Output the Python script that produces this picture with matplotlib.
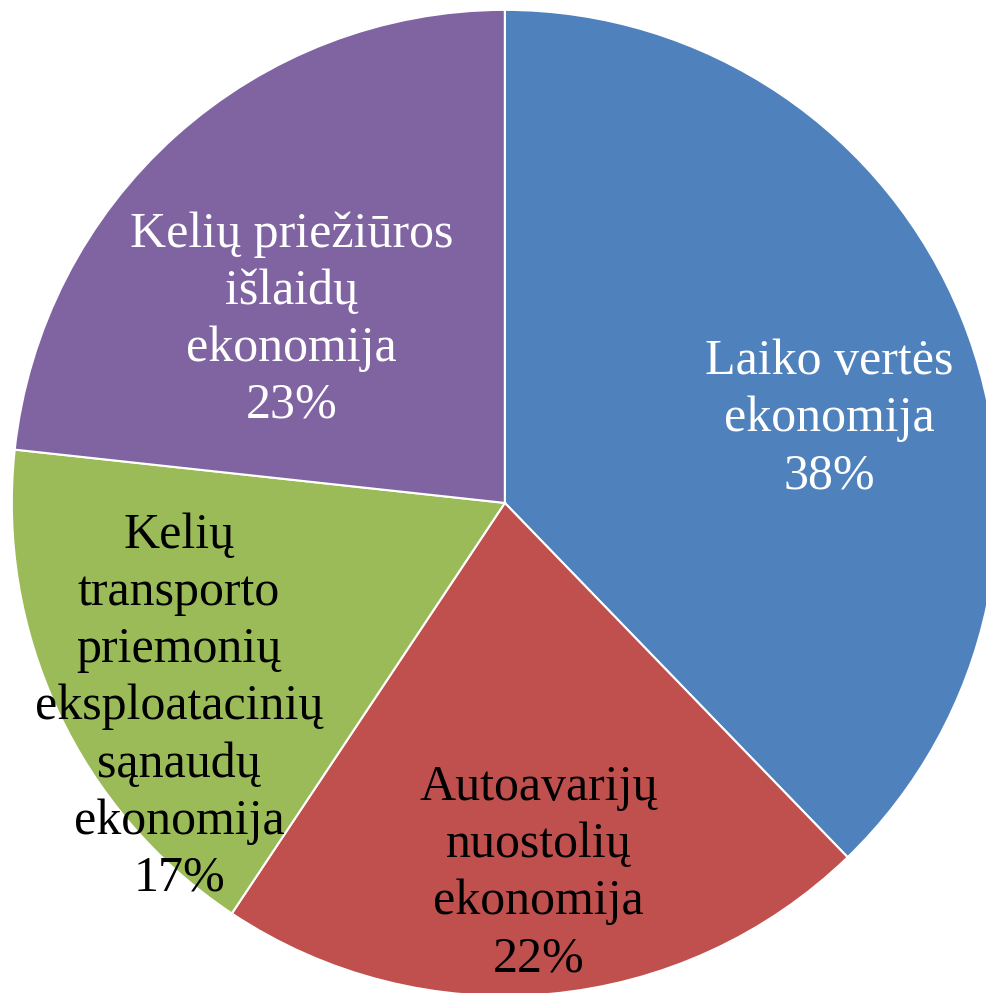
import numpy as np
import matplotlib
matplotlib.use("Agg")
import matplotlib.pyplot as plt

# slice data (clockwise from 12 o'clock)
labels = ["Laiko vertės\nekonomija",
          "Autoavarijų\nnuostolių\nekonomija",
          "Kelių\ntransporto\npriemonių\neksploatacinių\nsąnaudų\nekonomija",
          "Kelių priežiūros\nišlaidų\nekonomija"]
shares = [37.8, 21.6, 17.4, 23.3]
pct_labels = ["38%", "22%", "17%", "23%"]
colors = ["#4F81BD", "#C0504D", "#9BBB59", "#8064A2"]
text_colors = ["white", "black", "black", "white"]
# label placement: radius fraction and angular nudge (deg)
label_r = [0.68, 0.755, 0.78, 0.57]
label_nudge = [-7.5, 0, 7, 7.5]

plt.rcParams['font.family'] = ['Liberation Serif', 'DejaVu Serif']

fig = plt.figure(figsize=(9.86, 9.93), dpi=100)
ax = fig.add_axes([0, 0, 1, 1])
wedges, _ = ax.pie(shares, colors=colors, startangle=90, counterclock=False,
                   radius=1.0, wedgeprops=dict(edgecolor='white', linewidth=1.5))

for w, lab, pct, tc, r, nd in zip(wedges, labels, pct_labels, text_colors, label_r, label_nudge):
    mid = np.deg2rad((w.theta1 + w.theta2) / 2 + nd)
    ax.text(r * np.cos(mid), r * np.sin(mid), f"{lab}\n{pct}", ha='center', va='center',
            fontsize=36, color=tc, linespacing=1.3)

ax.set_xlim(-1.024, 0.976)
ax.set_ylim(-0.994, 1.020)
ax.set_aspect('auto')
ax.axis('off')
fig.savefig("out.png", dpi=100)
